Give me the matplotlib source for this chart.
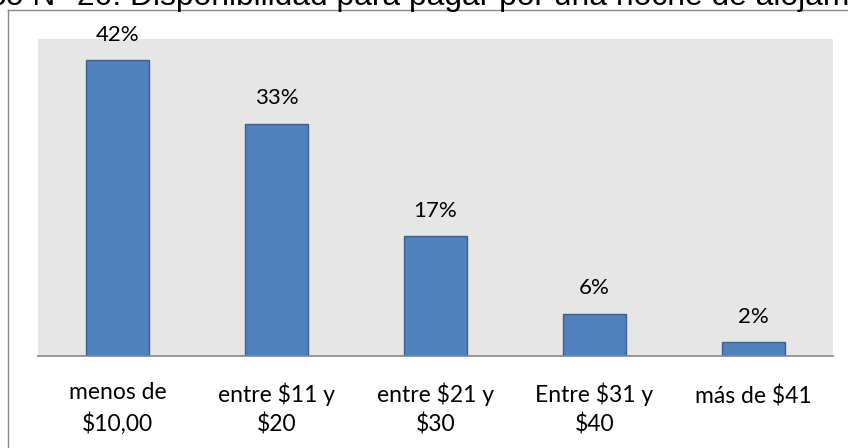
import matplotlib

matplotlib.use("Agg")
import matplotlib.pyplot as plt
from matplotlib.lines import Line2D
from matplotlib.transforms import ScaledTranslation
import numpy as np

categories = ["menos de\n$10,00", "entre $11 y\n$20", "entre $21 y\n$30",
              "Entre $31 y\n$40", "más de $41"]
values = [42, 33, 17, 6, 2]
title = "Gráfico N° 20: Disponibilidad para pagar por una noche de alojamiento"

W, H = 848, 448
fig = plt.figure(figsize=(W / 100, H / 100), dpi=100)
fig.patch.set_facecolor("white")

# plot area (pixel box converted to figure fractions)
left, right, top, bottom = 38, 833, 39, 356
ax = fig.add_axes([left / W, 1 - bottom / H, (right - left) / W, (bottom - top) / H])
ax.set_facecolor("#E6E6E6")

x = np.arange(len(categories))
bars = ax.bar(x, values, 0.4, color="#4F81BD", edgecolor="#3A6290", linewidth=1.0)
for b, v in zip(bars, values):
    ax.annotate(f"{v}%", (b.get_x() + b.get_width() / 2, v), xytext=(0, 11),
                textcoords="offset points", ha="center", va="bottom",
                fontsize=16, family="Lato", color="black")

ax.set_xlim(-0.5, len(categories) - 0.5)
ax.set_ylim(0, 45)
ax.set_yticks([])
ax.set_xticks(x)
ax.set_xticklabels(categories, fontsize=16.5, family="Lato", linespacing=1.45)
ax.tick_params(axis="x", length=0, pad=19)
# single-line label sits a touch high next to the wrapped ones
nudge = ScaledTranslation(0, -2 / 72, fig.dpi_scale_trans)
for lab in ax.get_xticklabels():
    if "\n" not in lab.get_text():
        lab.set_transform(lab.get_transform() + nudge)
for s in ["left", "top", "right"]:
    ax.spines[s].set_visible(False)
ax.spines["bottom"].set_color("#868686")
ax.spines["bottom"].set_linewidth(1.2)

# outer chart frame (cropped on the right and bottom)
fig.add_artist(Line2D([8 / W, 8 / W], [0, 1 - 10 / H], color="#888888", lw=1.0))
fig.add_artist(Line2D([8 / W, 1], [1 - 10 / H, 1 - 10 / H], color="#888888", lw=1.0))

# title, mostly cut off at the top edge
fig.text(-79 / W, 1 - 5 / H, title, fontsize=22.9, family="Liberation Sans",
         ha="left", va="baseline", color="black")

fig.savefig("out.png", dpi=100)
